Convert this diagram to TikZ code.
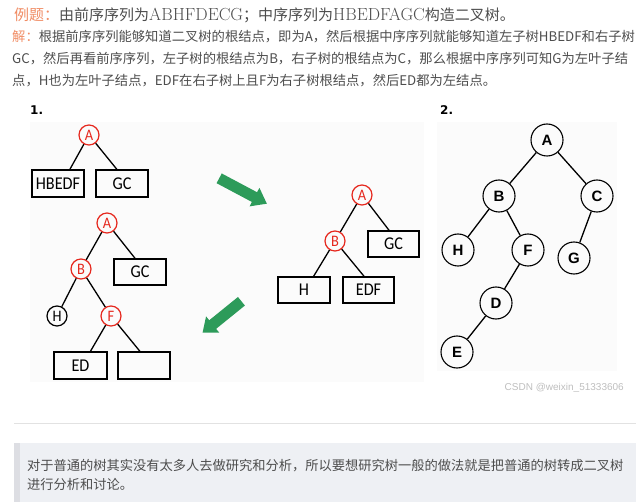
\documentclass[tikz,border=0pt]{standalone}
\usepackage{fontspec}
\newfontfamily\cjk{Noto Sans CJK SC}
\newfontfamily\treefont[FakeStretch=0.9]{Carlito}
\newfontfamily\boldfont{Liberation Sans}
\newfontfamily\numfont{DejaVu Sans}
\definecolor{textgray}{RGB}{77,77,77}
\definecolor{tagorange}{RGB}{240,140,100}
\definecolor{treered}{RGB}{230,40,30}
\definecolor{arrowgreen}{RGB}{45,155,90}
\definecolor{panelgray}{RGB}{251,251,251}
\definecolor{quotebg}{RGB}{238,240,244}
\definecolor{quotebar}{RGB}{221,222,227}
\definecolor{rulegray}{RGB}{226,226,226}
\definecolor{markgray}{RGB}{190,190,190}
\begin{document}
\begin{tikzpicture}[x=1pt,y=-1pt,
	line/.style={anchor=west,inner sep=0pt,text=textgray,font=\cjk\fontsize{13.3}{13.3}\selectfont},
	rnode/.style={circle,draw=treered,line width=1.2pt,text=treered,minimum size=20pt,inner sep=0pt,font=\treefont\fontsize{16}{16}\selectfont},
	bnode/.style={rnode,draw=black,text=black},
	part/.style={draw,line width=1.4pt,minimum width=52pt,minimum height=27pt,inner sep=0pt,font=\treefont\fontsize{18}{18}\selectfont},
	tnode/.style={circle,draw,line width=1.1pt,minimum size=32pt,inner sep=0pt,font=\boldfont\bfseries\fontsize{15}{15}\selectfont},
	edge/.style={line width=1.3pt},
	num/.style={inner sep=0pt,font=\numfont\bfseries\fontsize{12}{12}\selectfont}]
	\useasboundingbox (0,0) rectangle (636,502);
	
	% text above
	\node[line,font=\cjk\fontsize{15}{15}\selectfont] (title) at (14,15) 
	{\textcolor{tagorange}{例题：}由前序序列为{\rmfamily\fontsize{17.5}{17.5}\selectfont ABHFDECG}；中序序列为{\rmfamily\fontsize{17.5}{17.5}\selectfont HBEDFAGC}构造二叉树。};
	\node[line] (sol1) at (12,37) {\textcolor{tagorange}{解：}根据前序序列能够知道二叉树的根结点，即为A，然后根据中序序列就能够知道左子树HBEDF和右子树};
	\node[line] (sol2) at (12,59) {GC，然后再看前序序列，左子树的根结点为B，右子树的根结点为C，那么根据中序序列可知G为左叶子结};
	\node[line] (sol3) at (12,81) {点，H也为左叶子结点，EDF在右子树上且F为右子树根结点，然后ED都为左结点。};
	
	\fill[panelgray] (30,122) rectangle (424,382);
	\fill[panelgray] (437,122) rectangle (617,371);
	\node[num,anchor=west] (one) at (30,110) {1.};
	\node[num,anchor=west] (two) at (440,110) {2.};
	
	% step 1
	\node[rnode] (a1) at (89,135) {A};
	\node[part] (hbedf) at (58,183.5) {HBEDF};
	\node[part] (gc1) at (122,183.5) {GC};
	\draw[edge] (a1) -- (hbedf.50);
	\draw[edge] (a1) -- (gc1.110);
	
	% step 3
	\node[rnode] (a2) at (107,223) {A};
	\node[rnode] (b2) at (81,269) {B};
	\node[part,minimum height=26pt] (gc2) at (140,272) {GC};
	\node[bnode] (h2) at (57,316) {H};
	\node[rnode] (f2) at (111,316) {F};
	\node[part,minimum width=53pt] (ed) at (80.5,365.5) {ED};
	\node[part] (empty) at (144,365.5) {};
	\draw[edge] (a2) -- (b2);
	\draw[edge] (a2) -- (gc2.110);
	\draw[edge] (b2) -- (h2);
	\draw[edge] (b2) -- (f2);
	\draw[edge] (f2) -- (ed.55);
	\draw[edge] (f2) -- (empty.106);
	
	% step 2
	\node[rnode] (a3) at (362,195) {A};
	\node[rnode] (b3) at (335,241) {B};
	\node[part,minimum width=51pt,minimum height=26pt] (gc3) at (393.5,244) {GC};
	\node[part,minimum height=26pt] (h3) at (304,290) {H};
	\node[part,minimum width=51pt,minimum height=26pt] (edf) at (368.5,290) {EDF};
	\draw[edge] (a3) -- (b3);
	\draw[edge] (a3) -- (gc3.108);
	\draw[edge] (b3) -- (h3.55);
	\draw[edge] (b3) -- (edf.108);
	
	\fill[arrowgreen,shift={(243,191)},rotate=-28] (-27,-5.5) -- (13,-5.5) -- (13,-10.5) -- (27,0) -- (13,10.5) -- (13,5.5) -- (-27,5.5) -- cycle;
	\fill[arrowgreen,shift={(222,317)},rotate=-141] (-25,-5.5) -- (12,-5.5) -- (12,-10.5) -- (25,0) -- (12,10.5) -- (12,5.5) -- (-25,5.5) -- cycle;
	
	% result
	\node[tnode] (A) at (547,140) {A};
	\node[tnode] (B) at (499,196) {B};
	\node[tnode] (C) at (597,196) {C};
	\node[tnode] (H) at (458,250) {H};
	\node[tnode] (F) at (528,250) {F};
	\node[tnode] (G) at (574,258) {G};
	\node[tnode] (D) at (496,303) {D};
	\node[tnode] (E) at (457,352) {E};
	\draw[edge] (A) -- (B);
	\draw[edge] (A) -- (C);
	\draw[edge] (B) -- (H);
	\draw[edge] (B) -- (F);
	\draw[edge] (C) -- (G);
	\draw[edge] (F) -- (D);
	\draw[edge] (D) -- (E);
	\node[anchor=east,inner sep=0pt,text=markgray,font=\boldfont\fontsize{10}{10}\selectfont] (mark) at (624,388) {CSDN @weixin\_51333606};
	
	% quote below
	\draw[rulegray,line width=1pt] (14,423) -- (636,423);
	\fill[quotebg] (14,443) rectangle (636,502);
	\fill[quotebar] (14,443) rectangle (20,502);
	\node[line,font=\cjk\fontsize{13.25}{13.25}\selectfont] (q1) at (27,466) {对于普通的树其实没有太多人去做研究和分析，所以要想研究树一般的做法就是把普通的树转成二叉树};
	\node[line,font=\cjk\fontsize{13.25}{13.25}\selectfont] (q2) at (27,484) {进行分析和讨论。};
\end{tikzpicture}
\end{document}
